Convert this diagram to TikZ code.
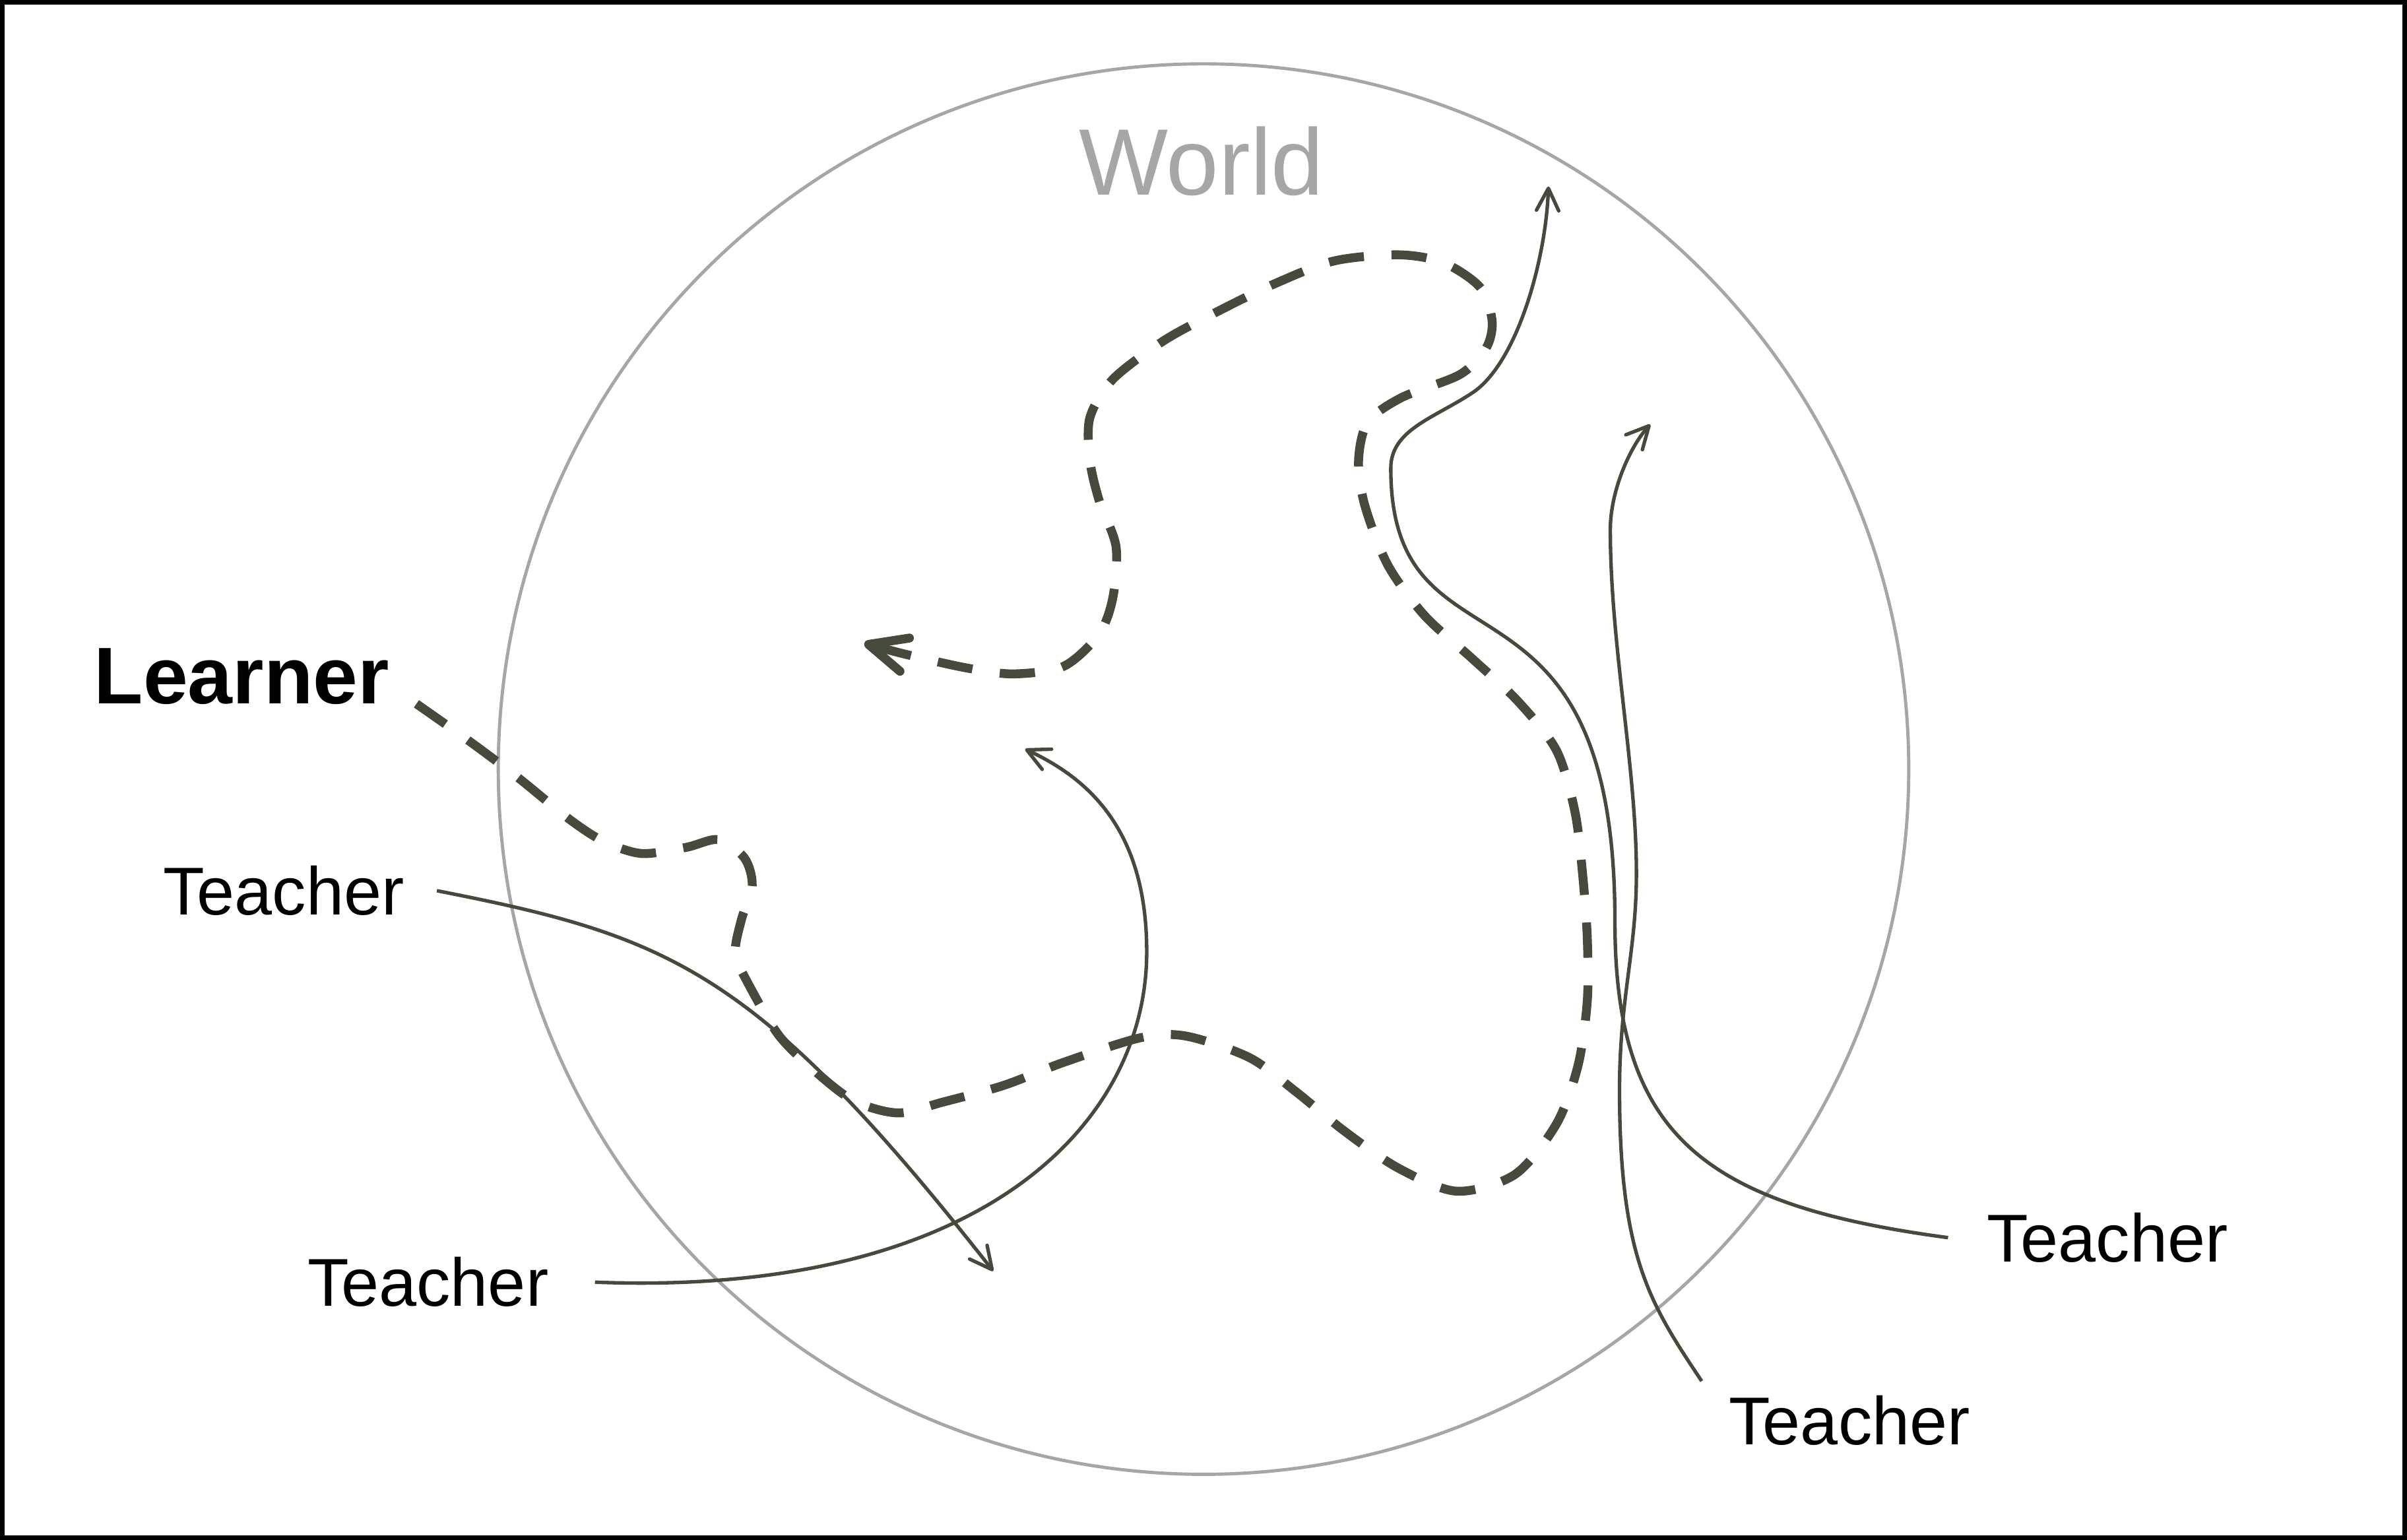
\documentclass[tikz,border=0pt]{standalone}
\usepackage{fontspec}
\setmainfont{Liberation Sans}
\usepackage{tikz}
\usetikzlibrary{arrows.meta}
\definecolor{pathgray}{RGB}{70,74,60}
\definecolor{worldgray}{RGB}{166,166,166}

\tikzset{
  learnerlbl/.style={anchor=base west, inner sep=0pt, font=\fontsize{29.8}{36}\selectfont\bfseries},
  teacherlbl/.style={anchor=base west, inner sep=0pt, font=\fontsize{25.1}{30}\selectfont},
  worldlbl/.style={anchor=base west, inner sep=0pt, text=worldgray, font=\fontsize{35}{42}\selectfont},
  learnpath/.style={draw=pathgray, line width=3.3pt, dash pattern=on 0.46cm off 0.36cm,
    -{Straight Barb[length=0.49cm,width=0.45cm,round]}},
  teachpath/.style={draw=pathgray, line width=1.3pt,
    -{Straight Barb[length=0.29cm,width=0.29cm,round]}},
}

\begin{document}
\begin{tikzpicture}[x=0.02cm, y=-0.02cm]
  \useasboundingbox (0,0) rectangle (1568,1003);
  \draw[line width=1.7pt] (1.5,1.5) rectangle (1566.5,1001.5);

  % the world
  \draw[worldgray, line width=1.2pt] (784,501) circle[radius=9.19cm];
  \node[worldlbl] (world) at (702.6,127) {World};

  % labels
  \node[learnerlbl] (learner) at (61,458.5) {Learner};
  \node[teacherlbl] (t1) at (106,596) {Teacher};
  \node[teacherlbl] (t2) at (200,851) {Teacher};
  \node[teacherlbl] (t3) at (1294,822) {Teacher};
  \node[teacherlbl] (t4) at (1126,941) {Teacher};

  % free ends of the paths
  \coordinate (tip1) at (647,828);
  \coordinate (tip2) at (667.8,488);
  \coordinate (tip3) at (1008.7,121.5);
  \coordinate (tip4) at (1075,276.5);
  \coordinate (lend) at (563,419);

  % teachers
  \draw[teachpath] ([xshift=0.42cm]t1.east) .. controls (436,610) and (492,631) .. (tip1);
  \draw[teachpath] ([xshift=0.6cm]t2.east) .. controls (638,845) and (747,733) .. (747,620)
    .. controls (747,540) and (708.5,507) .. (tip2);
  \draw[teachpath] ([xshift=-0.5cm]t3.west) .. controls (1110,785) and (1052,740) .. (1052,600)
    .. controls (1052,353) and (906,449) .. (906,305)
    .. controls (906,280) and (934,272.5) .. (959,256)
    .. controls (988,237) and (1007,170) .. (tip3);
  \draw[teachpath] ([shift={(-0.35cm,0.18cm)}]t4.north west) .. controls (1075.5,850) and (1055,820) .. (1055,710)
    .. controls (1055,650) and (1066,620) .. (1066,569)
    .. controls (1066,500) and (1049,420) .. (1049,345)
    .. controls (1049,320) and (1061.6,291.3) .. (tip4);

  % learner
  \draw[learnpath] plot[smooth] coordinates {([xshift=0.35cm]learner.base east) (306,483)
    (338,507) (370,533) (393,548) (418,556) (447,552) (468,547) (485,559) (490,577) (483,599)
    (479,621) (487,640) (507,674) (530,697) (556,717) (585,725) (614,718) (654,707) (693,692)
    (743,676) (773,675) (814,689) (844,711) (876,737) (911,761) (949,776) (987,765) (1014,732)
    (1028,694) (1034,652) (1034,611) (1031,570) (1026,529) (1014,489) (989,457) (959,429)
    (928,401) (904,368) (889,329) (885,300) (891,275) (913,259) (951,244) (968,227) (972,209)
    (964,187) (940,171) (911,166) (869,170) (830,185) (793,203) (758,222) (725,247) (710,272)
    (710,300) (716,326) (727,356) (725,389) (716,413) (693,434) (660,439) (629,435) (589,426)
    (lend)};
\end{tikzpicture}
\end{document}
